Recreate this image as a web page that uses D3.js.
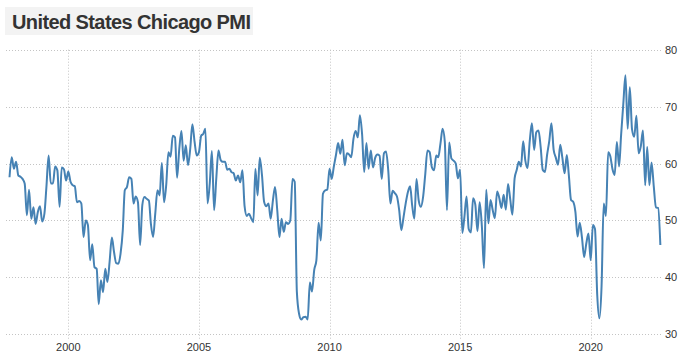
<!DOCTYPE html>
<html>
<head>
<meta charset="utf-8">
<script src="https://cdn.jsdelivr.net/npm/d3@7"></script>
<style>
  html, body { margin: 0; padding: 0; background: #fff; }
  svg { display: block; }
</style>
</head>
<body>
<svg id="chart" width="685" height="359"></svg>
<script>
// ---------------- DATA ----------------
const chartTitle = "United States Chicago PMI";
const firstMonth = [1997, 10]; // year, month of first value (monthly series)
const pmiValues = [
  57.6, 61.1, 59.1,
  60.3, 57.9, 57.7, 57.3, 56.5, 50.9, 55.4, 50.3, 52.3, 49.4, 51.5, 52.5,
  49.8, 51.2, 55.9, 61.4, 56.5, 56.5, 59.5, 58.8, 52.4, 59.3, 59.0, 57.0,
  58.6, 56.8, 56.2, 56.0, 53.2, 53.4, 53.0, 47.1, 50.0, 49.2, 43.0, 45.8,
  41.8, 41.5, 35.3, 39.5, 37.4, 41.5, 39.2, 42.8, 47.0, 44.5, 42.5, 42.4,
  44.2, 48.3, 55.3, 55.9, 57.6, 57.3, 53.0, 54.2, 53.2, 45.7, 52.7, 54.1,
  53.8, 53.5, 49.4, 47.1, 51.2, 55.3, 54.4, 60.1, 53.2, 56.2, 62.0, 61.2,
  64.9, 64.6, 57.5, 62.6, 65.7, 60.5, 63.2, 59.7, 62.6, 66.9, 63.8, 61.4,
  62.0, 64.9, 65.2, 66.1, 53.0, 56.5, 62.2, 51.8, 57.5, 62.3, 60.6, 60.3,
  60.3, 58.9, 59.1, 58.5, 58.3, 57.0, 57.9, 56.7, 58.8, 52.5, 50.8, 51.2,
  50.4, 49.7, 59.1, 54.4, 61.0, 58.0, 53.3, 52.5, 53.0, 50.3, 53.5, 55.9,
  51.8, 47.1, 50.3, 48.0, 49.7, 49.4, 50.0, 57.3, 56.8, 37.5, 33.6, 32.6,
  33.0, 33.1, 32.6, 39.1, 37.5, 41.3, 43.0, 49.6, 46.5, 54.7, 55.3, 55.4,
  59.1, 57.3, 59.4, 61.5, 63.6, 61.7, 64.2, 59.7, 61.8, 61.6, 61.1, 64.3,
  65.7, 64.6, 68.5, 65.2, 58.5, 63.6, 59.1, 62.3, 59.3, 61.0, 61.6, 61.4,
  57.3, 61.8, 62.1, 58.8, 53.0, 55.2, 54.8, 54.2, 51.8, 48.3, 50.6, 53.0,
  55.0, 56.0, 52.7, 50.3, 57.3, 53.5, 52.4, 54.1, 58.2, 62.3, 62.0, 59.4,
  58.8, 61.4, 61.1, 63.5, 66.1, 63.8, 51.8, 63.7, 60.9, 60.5, 60.0, 57.4,
  58.9, 47.8, 50.5, 54.2, 48.5, 47.9, 53.9, 52.8, 48.1, 53.2, 49.0, 41.6,
  55.4, 49.5, 53.6, 51.8, 50.4, 55.1, 54.0, 52.2, 54.5, 51.9, 56.4, 53.8,
  51.0, 57.4, 58.8, 60.3, 59.5, 63.9, 60.5, 59.2, 64.0, 67.1, 62.4, 65.5,
  65.8, 62.8, 58.9, 58.5, 61.5, 64.0, 67.1, 62.4, 61.0, 59.8, 63.3, 61.0,
  58.3, 61.5, 58.0, 53.6, 53.3, 51.5, 47.2, 49.6, 47.0, 43.6, 46.0, 47.7,
  43.0, 49.2, 48.5, 37.0, 32.8, 38.5, 53.0, 50.8, 62.0, 61.3, 59.0, 58.0,
  63.8, 59.5, 65.0, 70.5, 75.5, 66.1, 73.4, 66.0, 64.7, 68.4, 61.8, 63.0,
  65.8, 56.2, 62.9, 56.2, 60.2, 56.0, 52.3, 52.2, 45.7
];
const yTickValues = [30, 40, 50, 60, 70, 80];
const xTickYears = [2000, 2005, 2010, 2015, 2020];

// ---------------- CHART ----------------
const svg = d3.select("#chart");
const data = pmiValues.map((v, i) => ({
  date: new Date(firstMonth[0], firstMonth[1] - 1 + i, 1),
  value: v
}));

const x = d3.scaleTime()
  .domain([new Date(2000, 0, 1), new Date(2020, 0, 1)])
  .range([68.3, 590.7]);
const y = d3.scaleLinear().domain([30, 80]).range([334.3, 49.7]);

const gridLeft = 6, gridRight = 661;

// horizontal grid
svg.append("g").selectAll("line").data(yTickValues).join("line")
  .attr("x1", gridLeft).attr("x2", gridRight)
  .attr("y1", d => Math.round(y(d)) + 0.5).attr("y2", d => Math.round(y(d)) + 0.5)
  .attr("stroke", "#c4c4c4").attr("stroke-width", 1).attr("stroke-dasharray", "1,2");

// vertical grid
svg.append("g").selectAll("line").data(xTickYears).join("line")
  .attr("x1", d => Math.round(x(new Date(d, 0, 1))) + 0.5)
  .attr("x2", d => Math.round(x(new Date(d, 0, 1))) + 0.5)
  .attr("y1", y(80)).attr("y2", y(30) + 5)
  .attr("stroke", "#c4c4c4").attr("stroke-width", 1).attr("stroke-dasharray", "1,2");

// y labels (right)
svg.append("g").selectAll("text").data(yTickValues).join("text")
  .attr("x", 665).attr("y", d => y(d) + 4)
  .attr("font-family", "'Liberation Sans', Arial, sans-serif")
  .attr("font-size", 11).attr("fill", "#333")
  .text(d => d);

// x labels
svg.append("g").selectAll("text").data(xTickYears).join("text")
  .attr("x", d => x(new Date(d, 0, 1))).attr("y", 350.5)
  .attr("text-anchor", "middle")
  .attr("font-family", "'Liberation Sans', Arial, sans-serif")
  .attr("font-size", 11).attr("fill", "#333")
  .text(d => d);

// line
const line = d3.line()
  .x(d => x(d.date)).y(d => y(d.value))
  .curve(d3.curveMonotoneX);
svg.append("path").datum(data)
  .attr("d", line)
  .attr("fill", "none")
  .attr("stroke", "#4682b4")
  .attr("stroke-width", 2)
  .attr("stroke-linejoin", "round");

// title
svg.append("rect").attr("x", 5).attr("y", 7).attr("width", 248).attr("height", 28)
  .attr("fill", "#f3f3f3");
svg.append("text").attr("x", 12).attr("y", 28.5)
  .attr("font-family", "'Liberation Sans', Arial, sans-serif")
  .attr("font-weight", "bold").attr("font-size", 20)
  .attr("letter-spacing", -0.6)
  .attr("fill", "#333")
  .text(chartTitle);
</script>
</body>
</html>
